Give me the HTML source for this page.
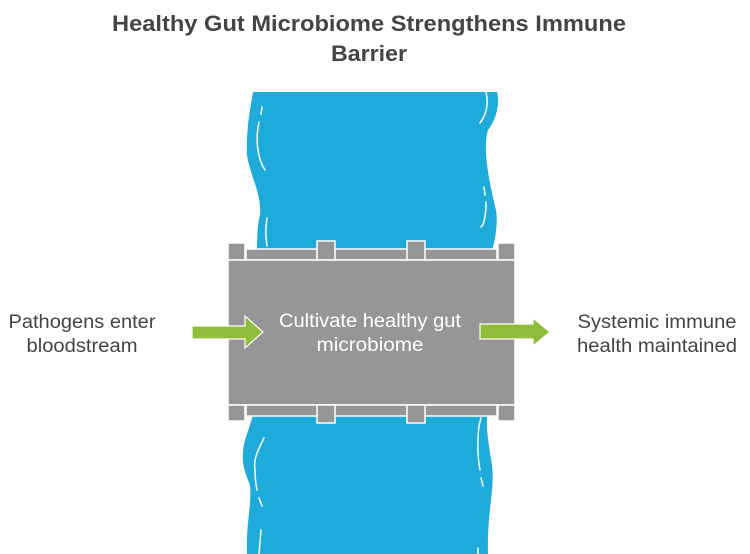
<!DOCTYPE html>
<html><head><meta charset="utf-8"><style>
body{margin:0;width:750px;height:554px;background:#fff;overflow:hidden;font-family:"Liberation Sans",Arial,sans-serif}
</style></head><body>
<svg width="750" height="554" viewBox="0 0 750 554" xmlns="http://www.w3.org/2000/svg" style="position:absolute;left:0;top:0">
<g font-family="Liberation Sans, Arial, sans-serif">
<text x="369" y="31" text-anchor="middle" font-weight="bold" font-size="22" fill="#444" textLength="514" lengthAdjust="spacingAndGlyphs">Healthy Gut Microbiome Strengthens Immune</text>
<text x="369" y="61" text-anchor="middle" font-weight="bold" font-size="22" fill="#444" textLength="76" lengthAdjust="spacingAndGlyphs">Barrier</text>
</g>
<path d="M253,92 L497,92 C500,105 496,120 488,130 C482,150 490,185 496,210 C499,230 492,250 490,260 L490,405 C484,420 488,440 492,465 C495,490 487,510 488,554 L247,554 C246,520 252,505 250,485 C244,470 240,460 245,440 C252,420 256,405 256,400 L256,260 C258,245 256,230 260,215 C262,195 250,175 247,155 C246,130 250,110 253,92 Z" fill="#1fabda"/>
<g stroke="#fff" stroke-width="1.5" fill="none" stroke-linecap="round">
<path d="M262,107 L261,114"/><path d="M259,122 C255,140 258,160 265,170"/><path d="M267,218 C265,230 266,240 267,246"/>
<path d="M486,92 C489,105 486,115 480,123"/><path d="M484,187 L485,195"/><path d="M486,202 C486,215 484,225 481,227"/>
<path d="M264,438 C258,450 253,460 255,470 C255,480 256,485 257,490"/><path d="M259,498 L262,506"/><path d="M261,530 L259,554"/>
<path d="M481,418 C477,430 477,455 480,470"/><path d="M481,478 L483,486"/><path d="M478,548 L478,554"/>
</g>
<g fill="#969696" stroke="#fff" stroke-width="1.5">
<rect x="246" y="249" width="251" height="11"/>
<rect x="228" y="243" width="17" height="17"/><rect x="498" y="243" width="17" height="17"/>
<rect x="317" y="241" width="18" height="19"/><rect x="407" y="241" width="18" height="19"/>
<rect x="228" y="260" width="287" height="145"/>
<rect x="246" y="405" width="251" height="11"/>
<rect x="228" y="405" width="17" height="16"/><rect x="498" y="405" width="17" height="16"/>
<rect x="317" y="405" width="18" height="18"/><rect x="407" y="405" width="18" height="18"/>
</g>
<g fill="#8fbd3a" stroke="#fff" stroke-width="1.2">
<path d="M192,326 L245,326 L245,316 L263,332 L245,348 L245,339 L192,339 Z"/>
<path d="M480,324 L533,324 L533,318 L550,332 L533,346 L533,339 L480,339 Z"/>
</g>
<g font-family="Liberation Sans, Arial, sans-serif" font-size="19" text-anchor="middle">
<text x="370" y="327" fill="#fff" textLength="182" lengthAdjust="spacingAndGlyphs">Cultivate healthy gut</text>
<text x="370" y="351" fill="#fff" textLength="107" lengthAdjust="spacingAndGlyphs">microbiome</text>
<text x="82" y="328" fill="#444" textLength="147" lengthAdjust="spacingAndGlyphs">Pathogens enter</text>
<text x="82" y="352" fill="#444" textLength="111" lengthAdjust="spacingAndGlyphs">bloodstream</text>
<text x="657" y="328" fill="#444" textLength="159" lengthAdjust="spacingAndGlyphs">Systemic immune</text>
<text x="657" y="352" fill="#444" textLength="160" lengthAdjust="spacingAndGlyphs">health maintained</text>
</g>
</svg>
</body></html>
